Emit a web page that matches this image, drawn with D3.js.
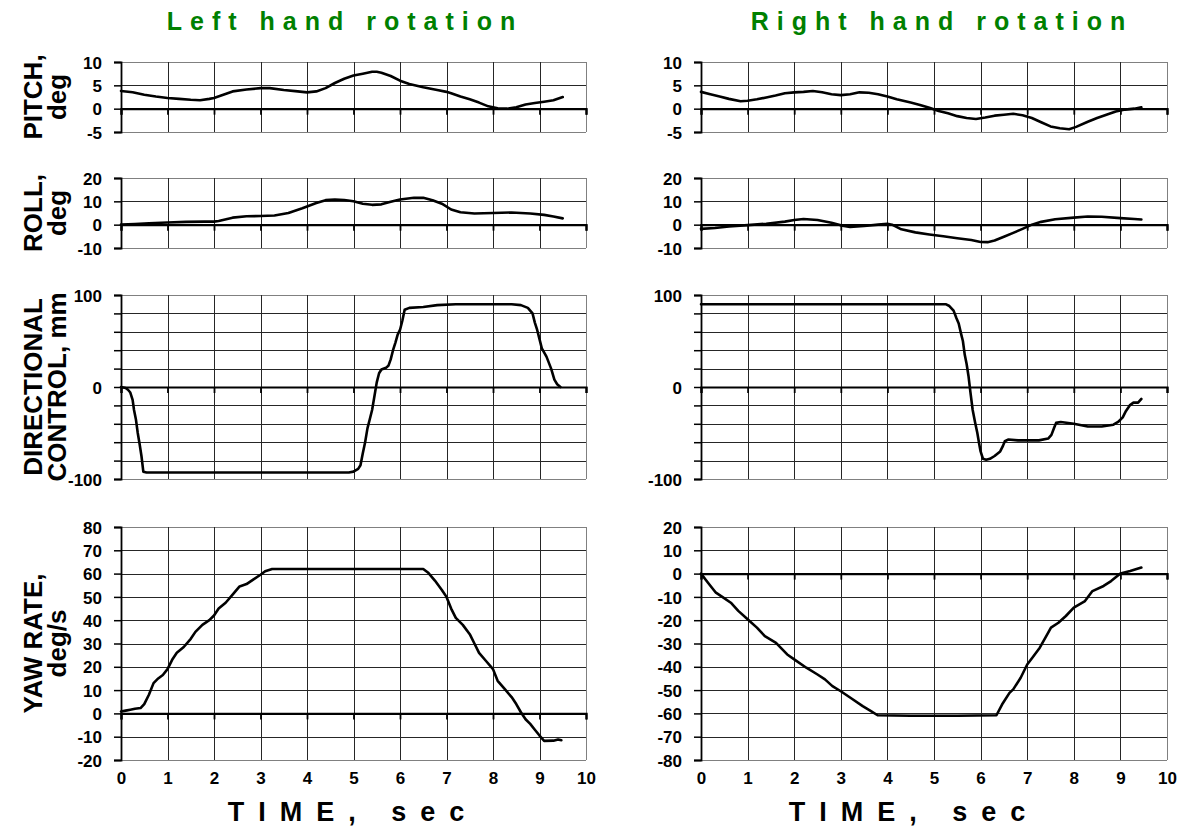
<!DOCTYPE html>
<html>
<head>
<meta charset="utf-8">
<script src="https://cdn.jsdelivr.net/npm/d3@7"></script>
<style>
html,body{margin:0;padding:0;background:#fff;}
svg{display:block;font-family:"Liberation Sans",Arial,sans-serif;}
</style>
</head>
<body>
<svg id="chart" width="1189" height="830"></svg>
<script>
// ---------- DATA ----------
const columnTitles = ["Left hand rotation", "Right hand rotation"];
const panelLabels = [["PITCH,", "deg"], ["ROLL,", "deg"], ["DIRECTIONAL", "CONTROL, mm"], ["YAW RATE,", "deg/s"]];
const timeTicks = [0,1,2,3,4,5,6,7,8,9,10];
const xTitle = "TIME, sec";

const pitchTicks = [10, 5, 0, -5];
const rollTicks = [20, 10, 0, -10];
const dirTicks = [100, 0, -100];
const dirGrid = [100, 80, 60, 40, 20, 0, -20, -40, -60, -80, -100];
const yawLeftTicks = [80,70,60,50,40,30,20,10,0,-10,-20];
const yawRightTicks = [20,10,0,-10,-20,-30,-40,-50,-60,-70,-80];

const leftPitch = [[0,3.8],[0.25,3.5],[0.5,3.0],[0.75,2.6],[1.0,2.3],[1.25,2.1],[1.5,1.9],[1.7,1.8],[1.9,2.1],[2.0,2.3],[2.2,3.0],[2.4,3.7],[2.7,4.1],[3.0,4.4],[3.2,4.4],[3.5,4.0],[3.8,3.7],[4.0,3.5],[4.2,3.7],[4.4,4.4],[4.6,5.5],[4.8,6.4],[5.0,7.1],[5.2,7.5],[5.4,7.9],[5.5,7.9],[5.6,7.7],[5.8,7.0],[6.0,6.0],[6.2,5.3],[6.5,4.6],[6.8,4.0],[7.0,3.6],[7.1,3.3],[7.3,2.6],[7.5,2.0],[7.7,1.3],[7.9,0.5],[8.1,0.1],[8.3,0.0],[8.5,0.3],[8.7,0.9],[8.9,1.2],[9.1,1.5],[9.3,1.8],[9.5,2.5]];
const leftRoll = [[0,0],[0.3,0.3],[0.6,0.6],[1.0,0.9],[1.4,1.2],[1.8,1.3],[2.0,1.3],[2.1,1.6],[2.4,3.0],[2.7,3.6],[3.0,3.7],[3.3,3.9],[3.6,5],[3.9,7],[4.2,9.3],[4.4,10.5],[4.6,10.8],[4.8,10.6],[5.0,10],[5.2,9],[5.4,8.5],[5.6,8.7],[5.8,9.8],[6.0,10.8],[6.3,11.5],[6.5,11.5],[6.7,10.5],[6.9,9.0],[7.1,6.5],[7.3,5.3],[7.6,4.8],[8.0,5.0],[8.4,5.2],[8.8,4.8],[9.1,4.2],[9.3,3.5],[9.5,2.7]];
const leftDir = [[0,0],[0.1,-1],[0.15,-3],[0.2,-6],[0.25,-14],[0.28,-25],[0.32,-35],[0.36,-50],[0.4,-62],[0.44,-75],[0.48,-92],[0.55,-93],[1.0,-93],[2.0,-93],[3.0,-93],[4.0,-93],[4.9,-93],[5.0,-92],[5.1,-89],[5.15,-85],[5.2,-72],[5.25,-60],[5.3,-45],[5.35,-35],[5.4,-25],[5.45,-10],[5.5,5],[5.55,15],[5.6,19],[5.7,21],[5.75,23],[5.8,30],[5.85,40],[5.9,48],[5.95,57],[6.0,62],[6.05,72],[6.1,84],[6.2,86],[6.5,87],[6.8,89],[7.2,90],[8.0,90],[8.4,90],[8.6,89],[8.75,86],[8.85,80],[8.9,70],[8.95,62],[9.0,52],[9.05,42],[9.15,33],[9.25,20],[9.32,8],[9.38,3],[9.45,0]];
const leftYaw = [[0,0.8],[0.1,1.2],[0.2,1.6],[0.3,2],[0.42,2.3],[0.5,4],[0.6,8],[0.7,13],[0.8,15],[0.9,16.5],[1.0,19],[1.1,23],[1.2,26],[1.35,28.5],[1.5,32],[1.6,35],[1.75,38],[1.9,40],[2.0,42],[2.1,45],[2.25,47.5],[2.4,51],[2.55,54.5],[2.7,55.5],[2.85,57.5],[3.0,59.5],[3.1,61],[3.25,62],[4,62],[5,62],[6,62],[6.5,62],[6.6,60.5],[6.75,57],[6.9,53],[7.0,50],[7.1,45],[7.2,41],[7.35,38],[7.5,34],[7.6,30],[7.7,26],[7.85,22.5],[8.0,19],[8.1,14],[8.25,10.5],[8.4,7],[8.5,4],[8.6,0.5],[8.7,-2.5],[8.8,-4.5],[8.9,-7],[9.0,-9.5],[9.1,-11.8],[9.3,-11.7],[9.4,-11.2],[9.47,-11.5]];

const rightPitch = [[0,3.6],[0.2,3.1],[0.4,2.6],[0.6,2.1],[0.85,1.6],[1.0,1.7],[1.2,2.0],[1.4,2.4],[1.6,2.8],[1.8,3.3],[2.0,3.5],[2.2,3.6],[2.4,3.8],[2.6,3.5],[2.8,3.1],[3.0,2.9],[3.2,3.1],[3.4,3.5],[3.6,3.4],[3.8,3.1],[4.0,2.6],[4.2,2.0],[4.5,1.3],[4.7,0.8],[4.9,0.2],[5.1,-0.5],[5.3,-1.0],[5.5,-1.6],[5.7,-2.0],[5.9,-2.2],[6.1,-1.9],[6.3,-1.5],[6.5,-1.3],[6.7,-1.1],[6.9,-1.4],[7.1,-2.0],[7.3,-2.9],[7.5,-3.8],[7.7,-4.2],[7.9,-4.4],[8.05,-3.9],[8.3,-2.8],[8.5,-2.0],[8.7,-1.3],[8.9,-0.6],[9.1,-0.2],[9.3,0.0],[9.45,0.3]];
const rightRoll = [[0,-1.8],[0.3,-1.4],[0.6,-0.8],[1.0,-0.2],[1.4,0.4],[1.8,1.3],[2.0,2.0],[2.2,2.4],[2.5,2.0],[2.8,0.8],[3.0,-0.3],[3.2,-1.0],[3.5,-0.6],[3.8,0.0],[4.0,0.4],[4.1,0.0],[4.3,-2.0],[4.6,-3.3],[4.9,-4.2],[5.2,-5.0],[5.5,-5.8],[5.8,-6.6],[6.0,-7.4],[6.15,-7.5],[6.3,-6.8],[6.5,-5.2],[6.7,-3.5],[6.9,-1.8],[7.1,0],[7.3,1.2],[7.6,2.3],[8.0,3.0],[8.3,3.5],[8.6,3.4],[9.0,2.8],[9.3,2.4],[9.45,2.2]];
const rightDir = [[0,90],[1,90],[2,90],[3,90],[4,90],[5,90],[5.25,90],[5.33,88],[5.42,83],[5.48,75],[5.53,69],[5.58,58],[5.62,50],[5.66,35],[5.7,25],[5.74,12],[5.78,-5],[5.83,-25],[5.88,-38],[5.93,-50],[5.97,-62],[6.0,-70],[6.05,-78],[6.12,-79],[6.2,-78],[6.3,-75],[6.42,-70],[6.48,-64],[6.52,-59],[6.6,-57],[6.8,-58],[7.0,-58],[7.25,-58],[7.45,-56],[7.52,-52],[7.58,-44],[7.62,-39],[7.72,-38],[8.0,-40],[8.3,-43],[8.6,-43],[8.85,-41],[8.95,-38],[9.05,-33],[9.12,-26],[9.2,-20],[9.28,-17],[9.38,-17],[9.45,-13]];
const rightYaw = [[0,0],[0.15,-3.9],[0.32,-8.2],[0.48,-10.3],[0.64,-12.5],[0.8,-16],[1.0,-19.6],[1.2,-23.2],[1.37,-26.8],[1.61,-29.7],[1.85,-34.7],[2.0,-36.8],[2.26,-40.4],[2.5,-43.3],[2.66,-45.4],[2.82,-48.3],[3.0,-50.5],[3.23,-53.6],[3.47,-56.9],[3.63,-58.8],[3.79,-60.8],[4.5,-61],[5.5,-61],[6.34,-60.8],[6.46,-56.2],[6.62,-51.2],[6.7,-49.7],[6.86,-44.7],[7.0,-39],[7.11,-36.1],[7.27,-31.8],[7.43,-26.1],[7.51,-23.2],[7.67,-21.1],[7.83,-18.2],[8.0,-14.6],[8.24,-11.8],[8.4,-7.5],[8.64,-5.3],[8.8,-3.2],[9.0,0],[9.21,1.1],[9.45,2.6]];

// ---------- LAYOUT ----------
const svg = d3.select("#chart");
const cols = [{x0:121, x1:586}, {x0:701, x1:1167}];
const rows = [
  {y0:62,  y1:132, dom:[-5,10],    grid:pitchTicks,    labels:[pitchTicks, pitchTicks]},
  {y0:178, y1:248, dom:[-10,20],   grid:rollTicks,     labels:[rollTicks, rollTicks]},
  {y0:295, y1:479, dom:[-100,100], grid:dirGrid,       labels:[dirTicks, dirTicks]},
  {y0:527, y1:760, dom:null,       grid:null,          labels:null}
];
const series = [[leftPitch, leftRoll, leftDir, leftYaw],[rightPitch, rightRoll, rightDir, rightYaw]];
const yawDomains = [[-20,80],[-80,20]];
const yawTicks = [yawLeftTicks, yawRightTicks];

const FONT = '"Liberation Sans", Arial, sans-serif';

cols.forEach((c, ci) => {
  const x = d3.scaleLinear().domain([0,10]).range([c.x0, c.x1]);
  rows.forEach((r, ri) => {
    const dom = ri === 3 ? yawDomains[ci] : r.dom;
    const grid = ri === 3 ? yawTicks[ci] : r.grid;
    const labs = ri === 3 ? yawTicks[ci] : r.labels[ci];
    const y = d3.scaleLinear().domain(dom).range([r.y1, r.y0]);
    const g = svg.append("g");

    // horizontal gridlines
    g.selectAll("line.hg").data(grid.filter(v => v !== 0)).join("line")
      .attr("x1", c.x0).attr("x2", c.x1)
      .attr("y1", d => Math.round(y(d)) + 0.5).attr("y2", d => Math.round(y(d)) + 0.5)
      .attr("stroke", d => (d === dom[0] || d === dom[1]) ? "#808080" : "#262626")
      .attr("stroke-width", 1);
    // vertical gridlines
    g.selectAll("line.vg").data(timeTicks.filter(t => t > 0)).join("line")
      .attr("x1", d => Math.round(x(d)) + 0.5).attr("x2", d => Math.round(x(d)) + 0.5)
      .attr("y1", r.y0).attr("y2", r.y1)
      .attr("stroke", d => d === 10 ? "#808080" : "#262626")
      .attr("stroke-width", 1);

    // zero line with ticks (x axis)
    const xAxis = d3.axisBottom(x).tickValues(timeTicks).tickSize(6).tickFormat("");
    const xa = g.append("g").attr("transform", `translate(0,${y(0)})`).call(xAxis);
    xa.select(".domain").attr("stroke", "#000").attr("stroke-width", 2.2);
    xa.selectAll(".tick line").attr("stroke", "#000").attr("stroke-width", 1.8);

    // left y axis
    const yAxis = d3.axisLeft(y).tickValues(grid).tickSize(7)
      .tickFormat(d => labs.includes(d) ? String(d) : "");
    const ya = g.append("g").attr("transform", `translate(${c.x0},0)`).call(yAxis);
    ya.select(".domain").attr("stroke", "#000").attr("stroke-width", 1.8);
    ya.selectAll(".tick line").attr("stroke", "#000").attr("stroke-width", 1.5);
    ya.selectAll(".tick text").attr("x", -19).attr("dy", "0.36em")
      .style("font-family", FONT).style("font-size", "17px").style("font-weight", "bold").attr("fill", "#000");

    // data line
    const line = d3.line().x(d => x(d[0])).y(d => y(d[1]));
    g.append("path").datum(series[ci][ri]).attr("d", line)
      .attr("fill", "none").attr("stroke", "#000").attr("stroke-width", 2.6)
      .attr("stroke-linejoin", "round").attr("stroke-linecap", "round");

    // bottom time labels on yaw panels
    if (ri === 3) {
      const xb = d3.axisBottom(x).tickValues(timeTicks).tickSize(0).tickFormat(d3.format("d"));
      const xba = g.append("g").attr("transform", `translate(0,${r.y1})`).call(xb);
      xba.select(".domain").remove();
      xba.selectAll(".tick text").attr("y", 12).attr("dy", "0.71em")
        .style("font-family", FONT).style("font-size", "17px").style("font-weight", "bold").attr("fill", "#000");
    }

    // y axis titles (left column only)
    if (ci === 0) {
      const cy = (r.y0 + r.y1) / 2;
      const t = g.append("text")
        .attr("transform", `translate(0,${cy}) rotate(-90)`)
        .attr("text-anchor", "middle")
        .style("font-family", FONT).style("font-size", "26px").style("font-weight", "bold");
      t.append("tspan").attr("x", 0).attr("y", 42).text(panelLabels[ri][0]);
      t.append("tspan").attr("x", 0).attr("y", 66).text(panelLabels[ri][1]);
    }
  });

  // column title
  const titleCx = ci === 0 ? 345 : 942;
  svg.append("text").attr("x", titleCx).attr("y", 30)
    .attr("text-anchor", "middle")
    .style("font-family", FONT).style("font-size", "25px").style("font-weight", "bold")
    .style("letter-spacing", "8px").attr("fill", "#008000")
    .text(columnTitles[ci]);

  // x axis title
  const xtCx = ci === 0 ? 353 : 914;
  svg.append("text").attr("x", xtCx).attr("y", 821)
    .attr("text-anchor", "middle")
    .style("font-family", FONT).style("font-size", "27px").style("font-weight", "bold")
    .style("letter-spacing", "14px")
    .text(xTitle);
});
</script>
</body>
</html>
